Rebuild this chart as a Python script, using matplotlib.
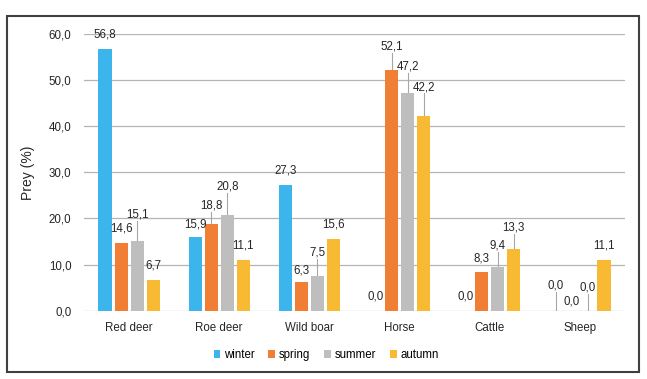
import matplotlib.pyplot as plt
import numpy as np
from matplotlib.patches import Rectangle

plt.rcParams["font.family"] = ["Liberation Sans", "DejaVu Sans"]

categories = ["Red deer", "Roe deer", "Wild boar", "Horse", "Cattle", "Sheep"]
seasons = ["winter", "spring", "summer", "autumn"]
winter = [56.8, 15.9, 27.3, 0.0, 0.0, 0.0]
spring = [14.6, 18.8, 6.3, 52.1, 8.3, 0.0]
summer = [15.1, 20.8, 7.5, 47.2, 9.4, 0.0]
autumn = [6.7, 11.1, 15.6, 42.2, 13.3, 11.1]
# where Excel put each data label (label height in data units)
label_y = [
    [59.8, 18.8, 30.3, 3.0, 3.0, 5.4],
    [17.9, 22.9, 8.8, 57.2, 11.4, 2.1],
    [20.8, 27.0, 12.7, 52.9, 14.2, 5.1],
    [9.7, 14.2, 18.6, 48.5, 18.0, 14.2],
]
# labels that have a leader line down to the bar
leaders = [
    [False, False, False, False, False, True],
    [False, True, False, True, False, False],
    [True, True, True, True, True, True],
    [False, False, False, True, True, False],
]

colors = ["#3CB4EC", "#F07F35", "#BEBEBE", "#F9BA33"]
series = [winter, spring, summer, autumn]

fig = plt.figure(figsize=(6.47, 3.79), dpi=100)
ax = fig.add_axes([84 / 647, 1 - 310.7 / 379, 541 / 647, 276.7 / 379])

x = np.arange(len(categories))
step = 0.178
width = 0.145
for i, (vals, col, name) in enumerate(zip(series, colors, seasons)):
    xs = x + (i - 1.5) * step
    ax.bar(xs, vals, width=width, color=col, label=name, zorder=3)
    for j, v in enumerate(vals):
        ly = label_y[i][j]
        ax.text(xs[j], ly, f"{v:.1f}".replace(".", ","), ha="center", va="center",
                fontsize=8.3, color="#262626", clip_on=False, zorder=4)
        if leaders[i][j]:
            ax.plot([xs[j], xs[j]], [v, ly - 1.4], color="#A6A6A6", lw=0.8, zorder=2)

ax.set_xlim(-0.5, len(categories) - 0.5)
ax.set_ylim(0, 60)
ax.set_yticks(np.arange(0, 61, 10))
ax.set_yticklabels([f"{t:.1f}".replace(".", ",") for t in np.arange(0, 61, 10)])
ax.set_xticks(x)
ax.set_xticklabels(categories)
ax.tick_params(length=0, labelsize=8.3, colors="#262626", pad=8)
ax.tick_params(axis="y", pad=9)
ax.grid(axis="y", color="#B4B4B4", lw=0.9, zorder=0)
for s in ax.spines.values():
    s.set_visible(False)
ax.set_ylabel("Prey (%)", fontsize=10, color="#262626", labelpad=10)

ax.legend(loc="center", bbox_to_anchor=(326 / 647, 1 - 355 / 379),
          bbox_transform=fig.transFigure, ncol=4, frameon=False, fontsize=8.3,
          handlelength=0.6, handleheight=0.6, handletextpad=0.3, columnspacing=1.2)

fig.patches.append(Rectangle((6.5 / 647, 1 - 372 / 379), 632 / 647, 356 / 379,
                             transform=fig.transFigure, fill=False,
                             edgecolor="#404040", lw=1.5))

fig.savefig("out.png", dpi=100)
